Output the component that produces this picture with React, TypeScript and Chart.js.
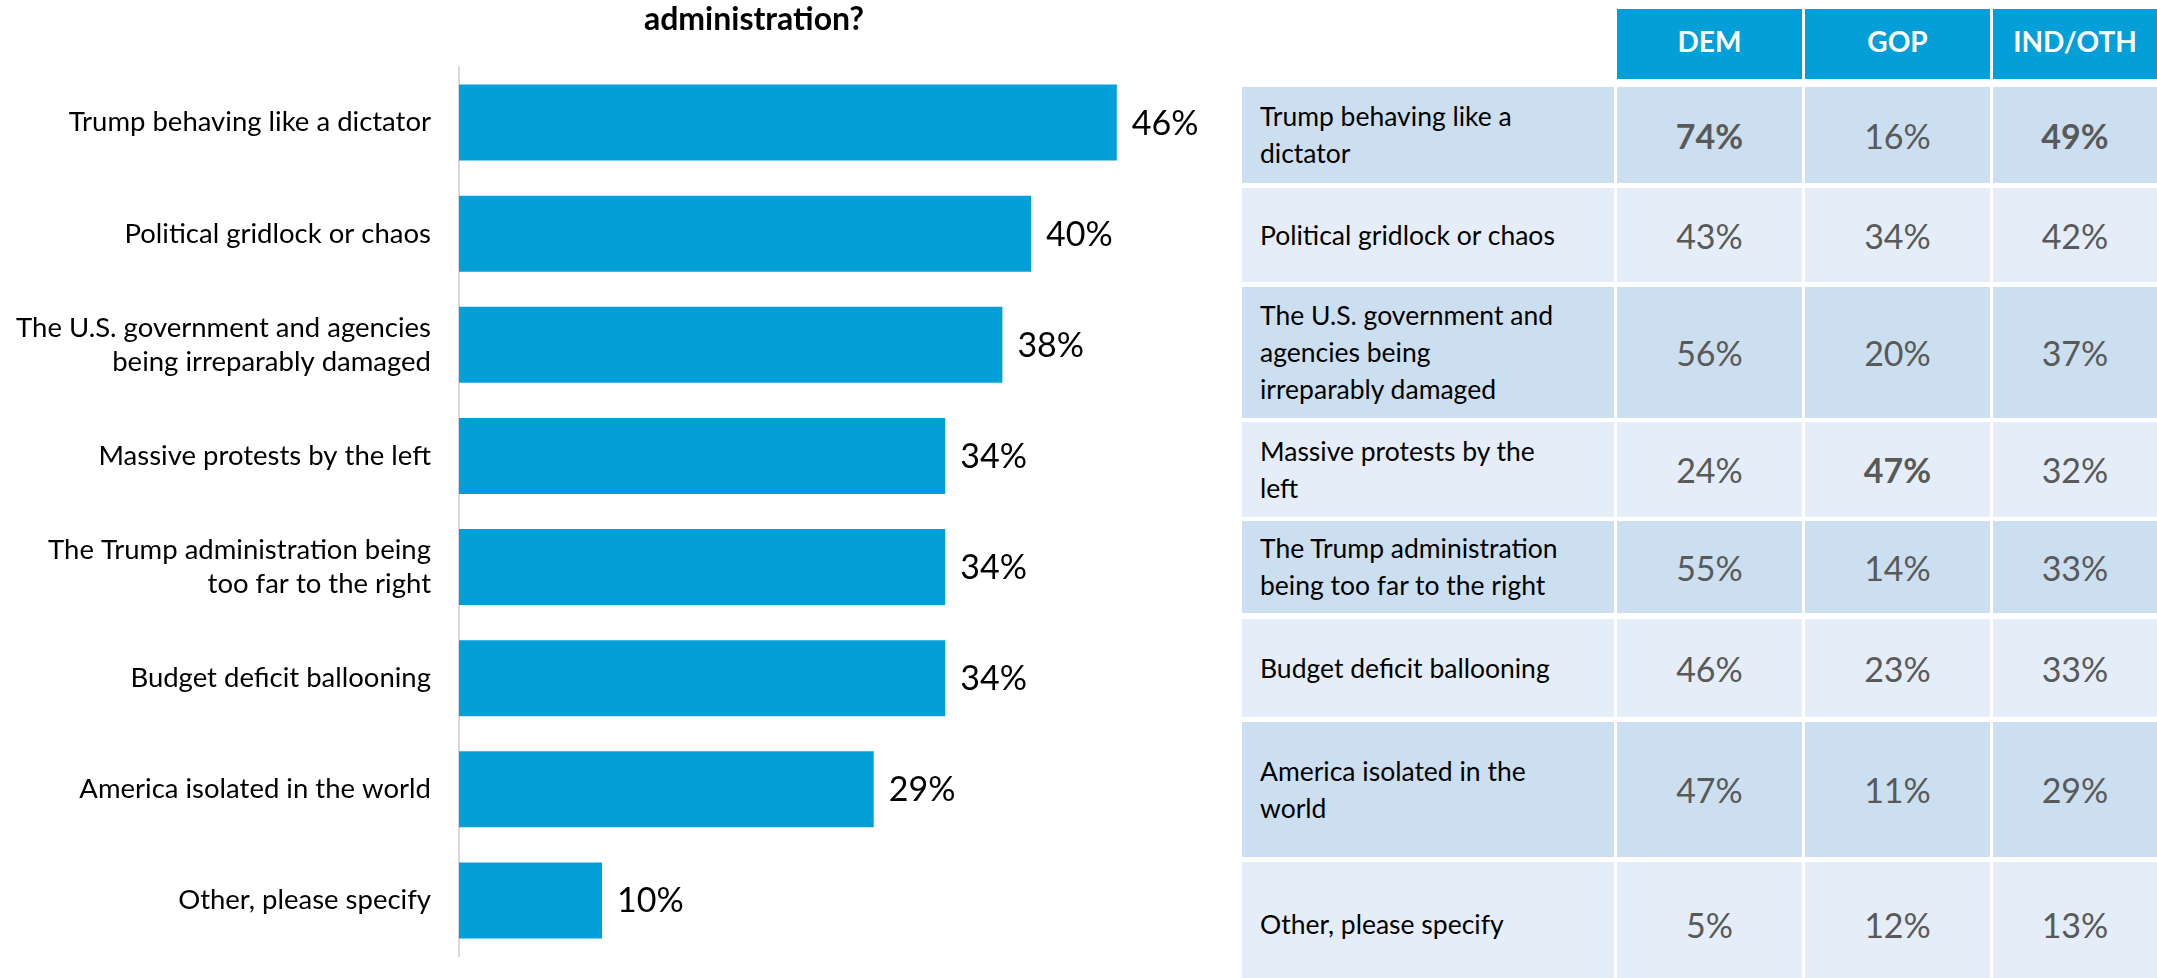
import React, { useEffect, useRef } from "react";
import { Chart, registerables } from "chart.js";

Chart.register(...registerables);

// ---------- data ----------
const titleText = "administration?";

const categories: (string | string[])[] = [
  "Trump behaving like a dictator",
  "Political gridlock or chaos",
  ["The U.S. government and agencies", "being irreparably damaged"],
  "Massive protests by the left",
  ["The Trump administration being", "too far to the right"],
  "Budget deficit ballooning",
  "America isolated in the world",
  "Other, please specify",
];
const totalValues = [46, 40, 38, 34, 34, 34, 29, 10];

const tableHeaders = ["DEM", "GOP", "IND/OTH"];
const tableLabels: string[][] = [
  ["Trump behaving like a", "dictator"],
  ["Political gridlock or chaos"],
  ["The U.S. government and", "agencies being", "irreparably damaged"],
  ["Massive protests by the", "left"],
  ["The Trump administration", "being too far to the right"],
  ["Budget deficit ballooning"],
  ["America isolated in the", "world"],
  ["Other, please specify"],
];
const demValues = [74, 43, 56, 24, 55, 46, 47, 5];
const gopValues = [16, 34, 20, 47, 14, 23, 11, 12];
const indValues = [49, 42, 37, 32, 33, 33, 29, 13];
const boldCells: [number, number][] = [
  [0, 0],
  [0, 2],
  [3, 1],
];

// ---------- layout / style ----------
const BLUE = "#029FD9";
const ROW_ODD = "#CCDFF0";
const ROW_EVEN = "#E5EEF8";
const FONT = "Lato, 'Open Sans', sans-serif";

const colLefts = [1242, 1617, 1805, 1993];
const colWidths = [372, 185, 185, 164];
const headerBox = { top: 9, height: 70 };
const rowBoxes = [
  { top: 87, height: 96 },
  { top: 188, height: 94 },
  { top: 287, height: 131 },
  { top: 422, height: 95 },
  { top: 521, height: 92 },
  { top: 619, height: 98 },
  { top: 722, height: 135 },
  { top: 862, height: 124 },
];

const valueLabelsPlugin = {
  id: "valueLabels",
  afterDatasetsDraw(chart: any) {
    const ctx = chart.ctx;
    const meta = chart.getDatasetMeta(0);
    const data = chart.data.datasets[0].data;
    ctx.save();
    ctx.font = `34px ${FONT}`;
    ctx.fillStyle = "#000000";
    ctx.textAlign = "left";
    ctx.textBaseline = "middle";
    meta.data.forEach((bar: any, i: number) => {
      ctx.fillText(`${data[i]}%`, bar.x + 15, bar.y + 1);
    });
    ctx.restore();
  },
};

function BarChart() {
  const ref = useRef<HTMLCanvasElement | null>(null);
  useEffect(() => {
    if (!ref.current) return;
    const chart = new Chart(ref.current, {
      type: "bar",
      data: {
        labels: categories,
        datasets: [
          {
            data: totalValues,
            backgroundColor: BLUE,
            borderWidth: 0,
            barPercentage: 0.685,
            categoryPercentage: 1,
          },
        ],
      },
      options: {
        indexAxis: "y",
        responsive: false,
        animation: false,
        devicePixelRatio: 1,
        layout: { padding: { top: 67, bottom: 22, left: 0, right: 66 } },
        plugins: {
          legend: { display: false },
          tooltip: { enabled: false },
        },
        scales: {
          x: {
            display: false,
            min: 0,
            max: 50,
          },
          y: {
            afterFit: (scale: any) => {
              scale.width = 459;
              scale.paddingTop = 0;
              scale.paddingBottom = 0;
            },
            grid: { display: false, drawTicks: false },
            border: { display: true, color: "#D9D9D9", width: 2 },
            ticks: {
              color: "#000000",
              padding: 28,
              font: { family: FONT, size: 27.5, lineHeight: 1.25 },
            },
          },
        },
      },
      plugins: [valueLabelsPlugin],
    });
    return () => chart.destroy();
  }, []);
  return (
    <canvas
      ref={ref}
      width={1240}
      height={978}
      style={{ position: "absolute", left: 0, top: 0, width: 1240, height: 978 }}
    />
  );
}

function Table() {
  const cols = [demValues, gopValues, indValues];
  const isBold = (r: number, c: number) =>
    boldCells.some(([br, bc]) => br === r && bc === c);
  const cells: React.ReactNode[] = [];
  tableHeaders.forEach((h, c) => {
    cells.push(
      <div
        key={`h${c}`}
        style={{
          position: "absolute",
          left: colLefts[c + 1],
          top: headerBox.top,
          width: colWidths[c + 1],
          height: headerBox.height,
          background: BLUE,
          color: "#FFFFFF",
          fontWeight: 700,
          fontSize: 28,
          display: "flex",
          alignItems: "center",
          justifyContent: "center",
          paddingBottom: 6,
          boxSizing: "border-box",
        }}
      >
        {h}
      </div>
    );
  });
  tableLabels.forEach((lines, r) => {
    const box = rowBoxes[r];
    const bg = r % 2 === 0 ? ROW_ODD : ROW_EVEN;
    cells.push(
      <div
        key={`l${r}`}
        style={{
          position: "absolute",
          left: colLefts[0],
          top: box.top,
          width: colWidths[0],
          height: box.height,
          background: bg,
          color: "#000000",
          fontSize: 26.5,
          lineHeight: "37px",
          display: "flex",
          flexDirection: "column",
          justifyContent: "center",
          paddingLeft: 18,
          boxSizing: "border-box",
        }}
      >
        {lines.map((ln, i) => (
          <div key={i} style={{ whiteSpace: "nowrap" }}>
            {ln}
          </div>
        ))}
      </div>
    );
    cols.forEach((vals, c) => {
      cells.push(
        <div
          key={`v${r}-${c}`}
          style={{
            position: "absolute",
            left: colLefts[c + 1],
            top: box.top,
            width: colWidths[c + 1],
            height: box.height,
            background: bg,
            color: "#595959",
            fontSize: 34,
            fontWeight: isBold(r, c) ? 700 : 400,
            display: "flex",
            alignItems: "center",
            justifyContent: "center",
          }}
        >
          {`${vals[r]}%`}
        </div>
      );
    });
  });
  return <>{cells}</>;
}

export default function App() {
  return (
    <div
      style={{
        position: "absolute",
        left: 0,
        top: 0,
        width: 2157,
        height: 978,
        overflow: "hidden",
        background: "#FFFFFF",
        fontFamily: FONT,
      }}
    >
      <BarChart />
      <div
        style={{
          position: "absolute",
          left: 754,
          top: 2,
          transform: "translateX(-50%)",
          fontSize: 32,
          lineHeight: "32px",
          fontWeight: 700,
          color: "#000000",
          whiteSpace: "nowrap",
        }}
      >
        {titleText}
      </div>
      <Table />
    </div>
  );
}
